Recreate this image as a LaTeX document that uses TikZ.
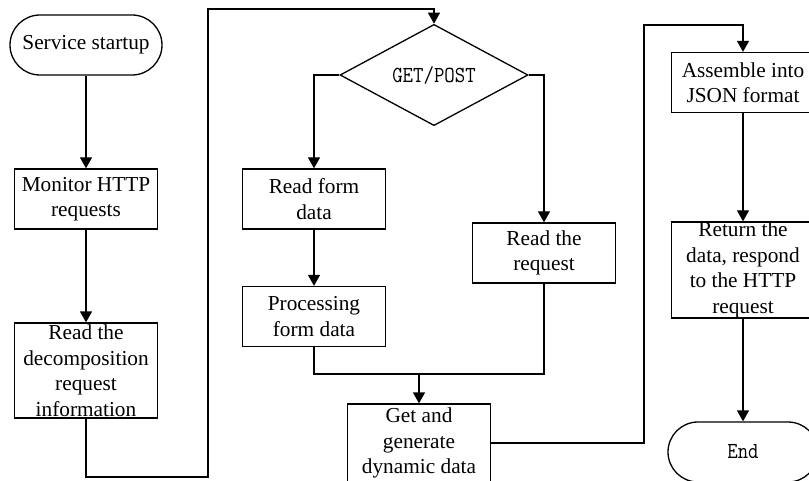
\documentclass[tikz,border=0pt]{standalone}
\usepackage{fontspec}
\usepackage{graphicx}
\setmainfont{Liberation Serif}
\usetikzlibrary{shapes.geometric,arrows.meta}
\newcommand{\monotext}[1]{\scalebox{0.88}[1]{\ttfamily\fontsize{23}{26}\selectfont #1}}
\begin{document}
\begin{tikzpicture}[x=1pt,y=-1pt,
  every node/.style={font=\fontsize{21.3}{25.5}\selectfont, align=center, inner sep=0pt, line width=1.3pt},
  procbox/.style={draw, rectangle, minimum width=143pt, minimum height=60pt},
  termbox/.style={draw, rectangle, rounded corners=30pt, minimum height=60pt},
  decision/.style={draw, diamond, minimum width=188pt, minimum height=74pt},
  flow/.style={line width=1.3pt, -{Triangle[length=11pt,width=12pt]}},
  link/.style={line width=1.3pt}]
\useasboundingbox (0,0) rectangle (809,481);

% left column
\node[termbox, minimum width=152pt] (start) at (86,45) {Service startup};
\node[procbox] (monitor) at (86,199) {Monitor HTTP\\requests};
\node[procbox, minimum height=95pt] (decomp) at (86,370.5) {Read the\\decomposition\\request\\information};

% middle column
\node[decision] (method) at (434,75) {\monotext{GET/POST}};
\node[procbox] (form) at (314,199) {Read form\\data};
\node[procbox] (proc) at (314,316.5) {Processing\\form data};
\node[procbox] (readreq) at (544,253) {Read the\\request};
\node[procbox, minimum height=78pt] (getdata) at (419,443) {Get and\\generate\\dynamic data};

% right column
\node[procbox] (json) at (743,82.5) {Assemble into\\JSON format};
\node[procbox, minimum height=96pt] (ret) at (743,270) {Return the\\data, respond\\to the HTTP\\request};
\node[termbox, minimum width=150pt] (finish) at (743,452) {\monotext{End}};

% routing points
\coordinate (lowleft) at (208,477);
\coordinate (topleft) at (208,9);
\coordinate (merge) at (419,374);
\coordinate (rightup) at (644,25);

% connectors
\draw[flow] (start) -- (monitor);
\draw[flow] (monitor) -- (decomp);
\draw[flow] (decomp.south) |- (lowleft) -- (topleft) -| (method.north);
\draw[flow] (method.west) -| (form.north);
\draw[flow] (method.east) -| (readreq.north);
\draw[flow] (form) -- (proc);
\draw[link] (proc.south) |- (merge) -| (readreq.south);
\draw[flow] (merge) -- (getdata.north);
\draw[flow] (getdata.east) -| (rightup) -| (json.north);
\draw[flow] (json) -- (ret);
\draw[flow] (ret) -- (finish);
\end{tikzpicture}
\end{document}
